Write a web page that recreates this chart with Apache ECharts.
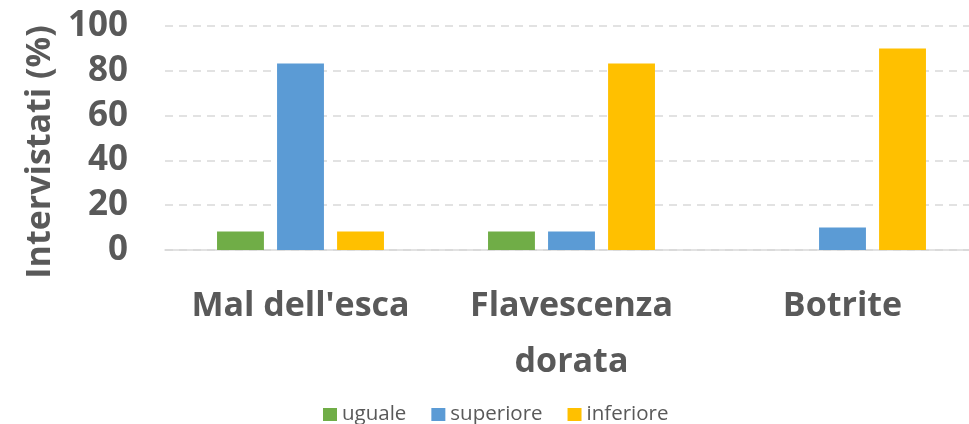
<!DOCTYPE html>
<html><head><meta charset="utf-8">
<script src="https://cdn.jsdelivr.net/npm/echarts@6/dist/echarts.min.js"></script>
<style>html,body{margin:0;padding:0;background:#fff}#c{width:969px;height:424px}</style>
</head><body><div id="c"></div>
<script>
const categories = ["Mal dell'esca", "Flavescenza\ndorata", "Botrite"];
const seriesNames = ["uguale", "superiore", "inferiore"];
const uguale = [8.3, 8.3, 0];
const superiore = [83.3, 8.3, 10];
const inferiore = [8.3, 83.3, 90];
const yTicks = { min: 0, max: 100, interval: 20 };
const colors = ["#70AD47", "#5B9BD5", "#FFC000"];
const FONT = "Open Sans";
const chart = echarts.init(document.getElementById('c'), null, { renderer: 'canvas' });
const values = [uguale, superiore, inferiore];
chart.setOption({
  animation: false,
  color: colors,
  legend: {
    top: 404, left: 323, padding: 0,
    itemWidth: 14, itemHeight: 13, itemGap: 25,
    icon: 'rect',
    textStyle: { fontFamily: FONT, fontSize: 20.5, color: '#595959' },
    data: seriesNames
  },
  grid: { left: 165, width: 813, top: 26, height: 224, containLabel: false, outerBoundsMode: 'none' },
  xAxis: {
    type: 'category', data: categories,
    axisLine: { lineStyle: { color: '#d9d9d9', width: 1.5 } },
    axisTick: { show: false },
    axisLabel: { fontFamily: FONT, fontWeight: 'bold', fontSize: 34, color: '#595959', lineHeight: 56, margin: 28, interval: 0 }
  },
  yAxis: {
    type: 'value', min: yTicks.min, max: yTicks.max, interval: yTicks.interval,
    name: 'Intervistati (%)', nameLocation: 'middle', nameGap: 108,
    nameTextStyle: { fontFamily: FONT, fontWeight: 'bold', fontSize: 34, color: '#595959', padding: [0, 28, 0, 0] },
    axisLine: { show: false }, axisTick: { show: false },
    splitLine: { lineStyle: { color: '#d9d9d9', width: 1.5, type: [8, 6] } },
    axisLabel: { fontFamily: FONT, fontWeight: 'bold', fontSize: 35, color: '#595959', margin: 37 }
  },
  series: seriesNames.map((n, i) => ({
    name: n, type: 'bar', data: values[i],
    barGap: '28%', barCategoryGap: '38.4%'
  }))
});
</script></body></html>
